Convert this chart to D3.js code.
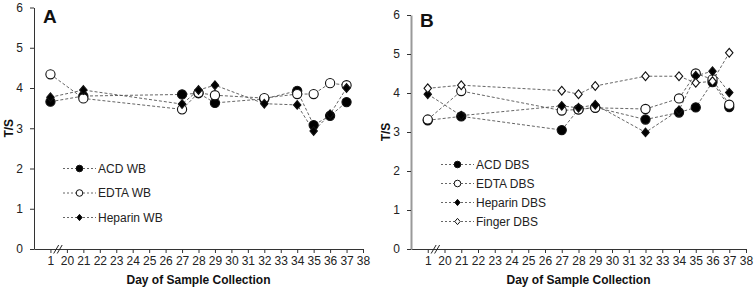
<!DOCTYPE html>
<html>
<head>
<meta charset="utf-8">
<script src="https://cdn.jsdelivr.net/npm/d3@7"></script>
<style>
  body { margin: 0; background: #fff; }
  svg { font-family: Arial, "Liberation Sans", sans-serif; }
  .tick text { font-size: 12px; fill: #222; }
</style>
</head>
<body>
<svg id="chart" width="755" height="290"></svg>
<script>
// x axis categories (break between 1 and 20)
const xLabels = ["1", "20", "21", "22", "23", "24", "25", "26", "27", "28", "29",
                 "30", "31", "32", "33", "34", "35", "36", "37", "38"];
const sampleDays = ["1", "21", "27", "28", "29", "32", "34", "35", "36", "37"];
const yTicks = [0, 1, 2, 3, 4, 5, 6];

// panel A - whole blood
const acdWB     = [3.66, 3.80, 3.84, 3.87, 3.63, 3.73, 3.93, 3.08, 3.31, 3.65];
const edtaWB    = [4.34, 3.74, 3.47, 3.88, 3.82, 3.75, 3.85, 3.85, 4.12, 4.07];
const heparinWB = [3.77, 3.95, 3.60, 3.95, 4.07, 3.61, 3.58, 2.93, 3.35, 4.00];

// panel B - dried blood spots
const acdDBS     = [3.30, 3.40, 3.05, 3.58, 3.63, 3.32, 3.50, 3.63, 4.28, 3.64];
const edtaDBS    = [3.32, 4.05, 3.55, 3.58, 3.62, 3.59, 3.86, 4.50, 4.35, 3.70];
const heparinDBS = [3.97, 3.42, 3.67, 3.62, 3.70, 2.99, 3.56, 4.44, 4.56, 4.01];
const fingerDBS  = [4.12, 4.20, 4.06, 3.97, 4.18, 4.43, 4.43, 4.26, 4.30, 5.03];

const svg = d3.select("#chart");

function drawPanel(opt) {
  const x = d3.scaleLinear().domain([0, 20]).range([opt.x0, opt.x1]);
  const y = d3.scaleLinear().domain([0, 6]).range([249, opt.yTop]);
  const g = svg.append("g");
  const xPos = d => x(xLabels.indexOf(d) + 1);

  // x axis
  const xa = g.append("g").attr("transform", "translate(0,249)")
    .call(d3.axisBottom(x).tickValues(d3.range(1, 21)).tickFormat(i => xLabels[i - 1])
      .tickSize(4).tickSizeOuter(0).tickPadding(3));
  xa.select(".domain").attr("stroke", "#333");
  xa.selectAll(".tick line").attr("stroke", "#333");

  // axis break
  [-2.5, 1].forEach(dx => {
    g.append("line")
      .attr("x1", x(1.5) + dx - 2.5).attr("y1", 253.5)
      .attr("x2", x(1.5) + dx + 2.5).attr("y2", 245)
      .attr("stroke", "#222").attr("stroke-width", 1);
  });

  // y axis
  const ya = g.append("g").attr("transform", `translate(${opt.x0},0)`)
    .call(d3.axisLeft(y).tickValues(yTicks).tickFormat(d3.format("d"))
      .tickSize(4).tickSizeOuter(0).tickPadding(7));
  ya.select(".domain").attr("stroke", opt.yAxisColor).attr("stroke-width", opt.yAxisWidth);
  ya.selectAll(".tick line").attr("stroke", "#333");

  // titles
  g.append("text").attr("x", opt.x0 + 9).attr("y", opt.letterY)
    .attr("font-size", 19).attr("font-weight", "bold").attr("fill", "#111").text(opt.letter);
  g.append("text")
    .attr("transform", `translate(${opt.x0 - 21},${(249 + opt.yTop) / 2}) rotate(-90)`)
    .attr("text-anchor", "middle").attr("font-size", 12).attr("font-weight", "bold")
    .attr("fill", "#111").text("T/S");
  g.append("text").attr("x", (opt.x0 + opt.x1) / 2).attr("y", 284)
    .attr("text-anchor", "middle").attr("font-size", 12).attr("font-weight", "bold")
    .attr("fill", "#111").text("Day of Sample Collection");

  const line = d3.line().x(d => xPos(d[0])).y(d => y(d[1]));

  opt.series.forEach(s => {
    g.append("path").datum(d3.zip(sampleDays, s.values))
      .attr("d", line).attr("fill", "none")
      .attr("stroke", "#555").attr("stroke-width", 0.9).attr("stroke-dasharray", "3,2");
  });
  opt.series.forEach(s => {
    g.selectAll(null).data(d3.zip(sampleDays, s.values)).enter()
      .append("path")
      .attr("transform", d => `translate(${xPos(d[0])},${y(d[1])})`)
      .attr("d", marker(s.shape, 4.6))
      .attr("fill", s.fill).attr("stroke", "#111").attr("stroke-width", 1.1);
  });

  // legend
  opt.series.forEach((s, i) => {
    const ly = opt.legY + i * opt.legStep;
    g.append("line").attr("x1", opt.legX).attr("x2", opt.legX + 33)
      .attr("y1", ly).attr("y2", ly)
      .attr("stroke", "#555").attr("stroke-width", 0.9).attr("stroke-dasharray", "2,2");
    g.append("path").attr("transform", `translate(${opt.legX + 16.5},${ly})`)
      .attr("d", marker(s.shape, 3.3))
      .attr("fill", s.fill).attr("stroke", "#111").attr("stroke-width", 1);
    g.append("text").attr("x", opt.legX + 35).attr("y", ly + 4)
      .attr("font-size", 12).attr("fill", "#222").text(s.name);
  });
}

function marker(shape, r) {
  if (shape === "circle") return d3.symbol(d3.symbolCircle, Math.PI * r * r)();
  const d = r * 0.95;
  return `M0,${-d}L${d * 0.85},0L0,${d}L${-d * 0.85},0Z`;
}

drawPanel({
  x0: 34, x1: 363, yTop: 7.5, letter: "A", letterY: 22.5,
  yAxisColor: "#333", yAxisWidth: 1,
  legX: 63, legY: 168.5, legStep: 24.5,
  series: [
    { name: "ACD WB", values: acdWB, shape: "circle", fill: "#000" },
    { name: "EDTA WB", values: edtaWB, shape: "circle", fill: "#fff" },
    { name: "Heparin WB", values: heparinWB, shape: "diamond", fill: "#000" }
  ]
});

drawPanel({
  x0: 411, x1: 746, yTop: 15, letter: "B", letterY: 26.5,
  yAxisColor: "#999", yAxisWidth: 2,
  legX: 441, legY: 164.5, legStep: 19,
  series: [
    { name: "ACD DBS", values: acdDBS, shape: "circle", fill: "#000" },
    { name: "EDTA DBS", values: edtaDBS, shape: "circle", fill: "#fff" },
    { name: "Heparin DBS", values: heparinDBS, shape: "diamond", fill: "#000" },
    { name: "Finger DBS", values: fingerDBS, shape: "diamond", fill: "#fff" }
  ]
});
</script>
</body>
</html>
